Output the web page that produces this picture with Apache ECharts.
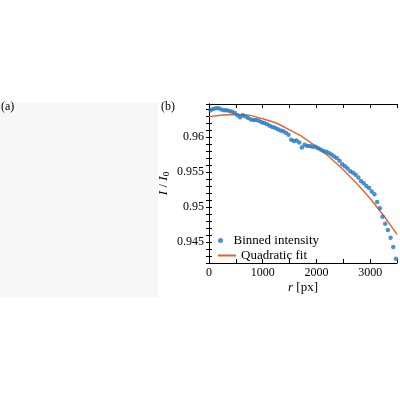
<!DOCTYPE html><html><head><meta charset="utf-8"><script src="https://cdn.jsdelivr.net/npm/echarts@6/dist/echarts.min.js"></script></head><body style="margin:0"><div id="c" style="width:400px;height:400px"></div><script>
const binX=[30,80,130,180,230,280,330,380,430,480,530,580,630,680,730,780,830,880,930,980,1030,1080,1130,1180,1230,1280,1330,1380,1430,1480,1530,1580,1630,1680,1730,1780,1830,1880,1930,1980,2030,2080,2130,2180,2230,2280,2330,2380,2430,2480,2530,2580,2630,2680,2730,2780,2830,2880,2930,2980,3030,3080,3130,3180,3230,3280,3330,3380,3430,3480];
const binY=[0.9638,0.9640,0.9641,0.9641,0.9639,0.9638,0.9638,0.9637,0.9636,0.9634,0.9631,0.9628,0.9631,0.9629,0.9627,0.9625,0.9624,0.9624,0.9623,0.9621,0.9620,0.9618,0.9616,0.9614,0.9613,0.9611,0.9609,0.9608,0.9606,0.9603,0.9596,0.9594,0.9595,0.9592,0.9585,0.9589,0.9587,0.9587,0.9586,0.9586,0.9584,0.9582,0.9580,0.9579,0.9577,0.9575,0.9572,0.9570,0.9566,0.9561,0.9558,0.9555,0.9551,0.9549,0.9546,0.9542,0.9537,0.9534,0.9530,0.9527,0.9522,0.9518,0.9507,0.9498,0.9486,0.9476,0.9467,0.9456,0.9443,0.9426];
const fitX=[0,500,1000,1500,2000,2500,3000,3500];
const fitY=[0.9629,0.9632,0.9626,0.9610,0.9586,0.9553,0.9512,0.9461];
const xTicks=[0,1000,2000,3000];
const yTicks=[0.945,0.95,0.955,0.96];
const F='Liberation Serif';
const ch=echarts.init(document.getElementById('c'));
const ax={type:'value',min:0,max:3500,interval:500,axisLine:{lineStyle:{color:'#000'}},axisTick:{inside:true,length:4,lineStyle:{color:'#000'}},splitLine:{show:false}};
const ay={type:'value',min:0.942,max:0.9647,interval:0.001,axisLine:{lineStyle:{color:'#000'}},axisTick:{inside:true,length:3,lineStyle:{color:'#000'}},splitLine:{show:false}};
const lt={fontFamily:F,fontSize:13,color:'#000'};
ch.setOption({animation:false,
grid:{left:209,right:3,top:104,bottom:137},
graphic:[{type:'rect',shape:{x:0,y:103,width:158,height:194},style:{fill:'#f7f7f7'}},
{type:'text',left:1,top:101,style:{text:'(a)',font:'12px "Liberation Serif"',fill:'#000'}},
{type:'text',left:161,top:101,style:{text:'(b)',font:'12px "Liberation Serif"',fill:'#000'}}],
legend:[{left:213,top:229,itemWidth:16,itemHeight:5,textStyle:lt,data:[{name:'Binned intensity',icon:'circle'}]},
{left:213,top:244,itemWidth:18,itemHeight:2,textStyle:lt,data:[{name:'Quadratic fit',icon:'rect'}]}],
xAxis:[Object.assign({},ax,{name:'{i|r} [px]',nameLocation:'middle',nameGap:18,nameTextStyle:{fontFamily:F,fontSize:13,color:'#000',rich:{i:{fontFamily:F,fontStyle:'italic',fontSize:13}}},
axisLabel:{fontFamily:F,fontSize:12,color:'#000',margin:4,formatter:v=>xTicks.includes(v)?String(v):''}}),
Object.assign({},ax,{position:'top',axisLabel:{show:false}})],
yAxis:[Object.assign({},ay,{name:'{i|I} / {i|I}{s|0}',nameLocation:'middle',nameGap:38,nameTextStyle:{fontFamily:F,fontSize:13,color:'#000',rich:{i:{fontFamily:F,fontStyle:'italic',fontSize:13},s:{fontFamily:F,fontSize:9,verticalAlign:'bottom',padding:[6,0,0,0]}}},
axisLabel:{fontFamily:F,fontSize:12,color:'#000',margin:5,formatter:v=>{const r=+v.toFixed(3);return yTicks.includes(r)?String(r):''}}}),
Object.assign({},ay,{position:'right',axisLabel:{show:false}})],
series:[{name:'Binned intensity',type:'scatter',symbolSize:4.5,itemStyle:{color:'#1f77c4'},data:binX.map((x,i)=>[x,binY[i]]),z:3},
{name:'Quadratic fit',type:'line',smooth:true,showSymbol:false,lineStyle:{color:'#e5622b',width:1.4},itemStyle:{color:'#e5622b'},data:fitX.map((x,i)=>[x,fitY[i]]),z:2}]});
</script></body></html>
